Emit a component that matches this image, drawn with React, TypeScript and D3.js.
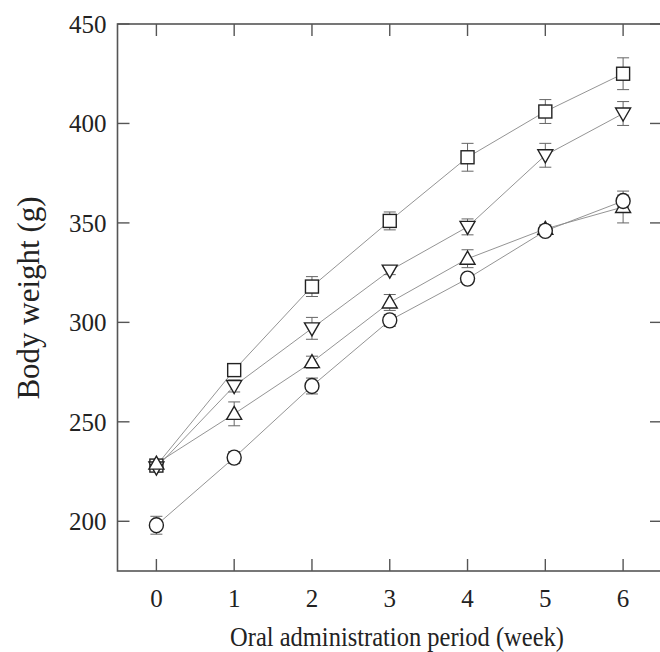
import React from "react";
import * as d3 from "d3";

const weeks = [0, 1, 2, 3, 4, 5, 6];
const squareVals = [228, 276, 318, 351, 383, 406, 425];
const squareErr = [2, 3, 5, 4.5, 7, 6, 8];
const downTriVals = [227, 268, 297, 326, 348, 384, 405];
const downTriErr = [2, 3, 5.5, 2, 4, 6, 6];
const upTriVals = [229, 254, 280, 310, 332, 347, 358];
const upTriErr = [2, 6, 3, 4, 4.5, 2, 8];
const circleVals = [198, 232, 268, 301, 322, 346, 361];
const circleErr = [4.5, 3, 4, 3, 2, 2, 3];
const xTicks = [0, 1, 2, 3, 4, 5, 6];
const yTicks = [200, 250, 300, 350, 400, 450];

const series = [
  { name: "square", vals: squareVals, err: squareErr },
  { name: "down", vals: downTriVals, err: downTriErr },
  { name: "up", vals: upTriVals, err: upTriErr },
  { name: "circle", vals: circleVals, err: circleErr },
];

const W = 660, H = 652;
const L = 117.5, R = 662, T = 24, B = 571;

export default function App() {
  const x = d3.scaleLinear().domain([-0.5, 6.5]).range([L, R]);
  const y = d3.scaleLinear().domain([175, 450]).range([B, T]);
  const line = d3.line<number>().x((_, i) => x(weeks[i])).y((v) => y(v));
  const axisColor = "#555";
  const font = "'Liberation Serif', 'DejaVu Serif', serif";
  const tl = 12;

  const marker = (name: string, cx: number, cy: number, key: string) => {
    const s = "#222";
    const sw = 1.4;
    if (name === "square")
      return <rect key={key} x={cx - 6.5} y={cy - 6.5} width={13} height={13} fill="white" stroke={s} strokeWidth={sw} />;
    if (name === "circle")
      return <ellipse key={key} cx={cx} cy={cy} rx={7} ry={7.5} fill="white" stroke={s} strokeWidth={sw} />;
    if (name === "up")
      return <path key={key} d={`M${cx},${cy - 7.5}L${cx + 7.5},${cy + 5.5}L${cx - 7.5},${cy + 5.5}Z`} fill="white" stroke={s} strokeWidth={sw} />;
    return <path key={key} d={`M${cx},${cy + 7.5}L${cx + 7.5},${cy - 5.5}L${cx - 7.5},${cy - 5.5}Z`} fill="white" stroke={s} strokeWidth={sw} />;
  };

  return (
    <svg width={W} height={H} style={{ position: "absolute", left: 0, top: 0, background: "white" }}>
      <rect x={0} y={0} width={W} height={H} fill="white" />
      {series.map((s) => (
        <path key={s.name} d={line(s.vals) || ""} fill="none" stroke="#888" strokeWidth={0.9} />
      ))}
      {series.map((s) =>
        s.vals.map((v, i) => {
          const cx = x(weeks[i]);
          const y1 = y(v + s.err[i]);
          const y2 = y(v - s.err[i]);
          return (
            <g key={s.name + "e" + i} stroke="#666" strokeWidth={1}>
              <line x1={cx} x2={cx} y1={y1} y2={y2} />
              <line x1={cx - 6} x2={cx + 6} y1={y1} y2={y1} />
              <line x1={cx - 6} x2={cx + 6} y1={y2} y2={y2} />
            </g>
          );
        })
      )}
      {series.map((s) => s.vals.map((v, i) => marker(s.name, x(weeks[i]), y(v), s.name + i)))}
      <rect x={L} y={T} width={R - L} height={B - T} fill="none" stroke={axisColor} strokeWidth={1.6} />
      {xTicks.map((t) => (
        <g key={"xt" + t} stroke={axisColor} strokeWidth={1.4}>
          <line x1={x(t)} x2={x(t)} y1={B} y2={B - tl} />
          <line x1={x(t)} x2={x(t)} y1={T} y2={T + tl} />
        </g>
      ))}
      {yTicks.map((t) => (
        <g key={"yt" + t} stroke={axisColor} strokeWidth={1.4}>
          <line x1={L} x2={L + tl} y1={y(t)} y2={y(t)} />
          <line x1={R} x2={R - tl} y1={y(t)} y2={y(t)} />
        </g>
      ))}
      {xTicks.map((t) => (
        <text key={"xl" + t} x={x(t)} y={607} textAnchor="middle" fontFamily={font} fontSize={25} fill="#222">
          {t}
        </text>
      ))}
      {yTicks.map((t) => (
        <text key={"yl" + t} x={L - 11} y={y(t)} dy="0.35em" textAnchor="end" fontFamily={font} fontSize={25} fill="#222">
          {t}
        </text>
      ))}
      <text
        transform="translate(397, 646) scale(1, 1.12)"
        textAnchor="middle"
        fontFamily={font}
        fontSize={24.5}
        fill="#222"
      >
        Oral administration period (week)
      </text>
      <text
        transform={`translate(39, 298) rotate(-90)`}
        textAnchor="middle"
        fontFamily={font}
        fontSize={31}
        fill="#222"
      >
        Body weight (g)
      </text>
    </svg>
  );
}
